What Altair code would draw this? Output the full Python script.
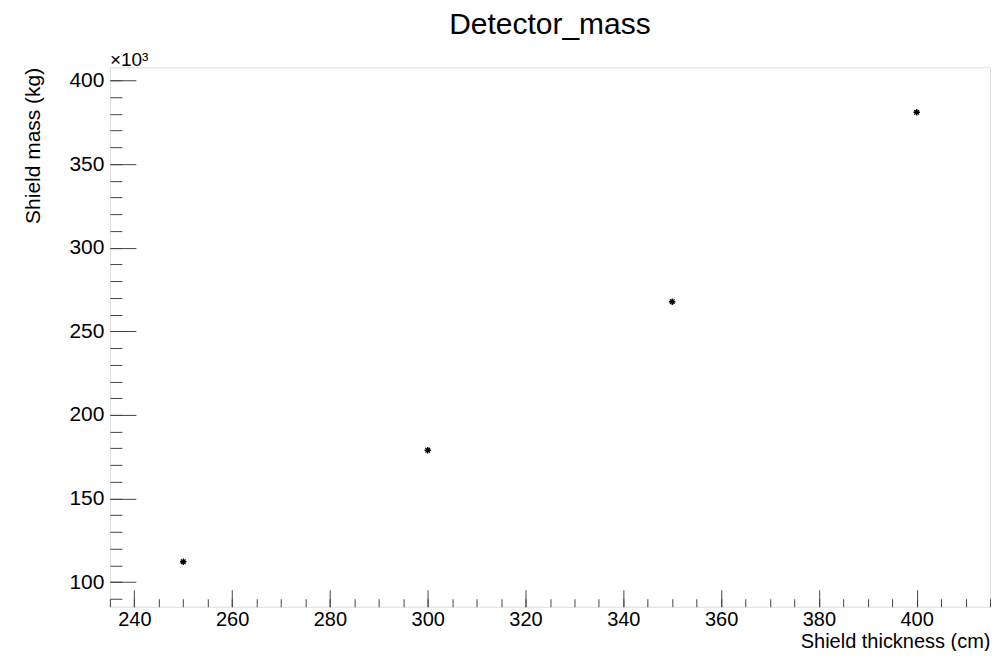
import altair as alt
import pandas as pd

# Data
thickness_cm = [250, 300, 350, 400]
mass_kg = [112200, 178900, 267700, 381000]

x_range = [235, 415]
y_range = [85300, 407900]
x_major = [240, 260, 280, 300, 320, 340, 360, 380, 400]
x_minor = list(range(235, 416, 5))
y_major = [100000, 150000, 200000, 250000, 300000, 350000, 400000]
y_minor = list(range(90000, 408000, 10000))

df = pd.DataFrame({"t": thickness_cm, "m": mass_kg})

FONT = "Liberation Sans"
TICK = "#444444"

xs = alt.Scale(domain=x_range, nice=False, zero=False)
ys = alt.Scale(domain=y_range, nice=False, zero=False)

x_major_axis = alt.Axis(
    orient="bottom", values=x_major, offset=-17, tickSize=17, tickColor=TICK,
    tickWidth=1, domain=False, grid=False, labelFont=FONT, labelFontSize=20,
    labelColor="black", labelPadding=3, title="Shield thickness (cm)",
    titleFont=FONT, titleFontSize=20, titleFontWeight="normal", titleColor="black",
    titleAnchor="end", titleAlign="right", titleBaseline="alphabetic", titleY=58,
)
y_major_axis = alt.Axis(
    orient="left", values=y_major, offset=-26, tickSize=26, tickColor=TICK,
    tickWidth=1, domain=False, grid=False, labelFont=FONT, labelFontSize=21,
    labelColor="black", labelPadding=6, labelExpr="format(datum.value/1000, 'd')",
    title="Shield mass (kg)", titleFont=FONT, titleFontSize=21,
    titleFontWeight="normal", titleColor="black", titleAnchor="end",
    titleAlign="right", titlePadding=25,
)
x_minor_axis = alt.Axis(
    orient="bottom", values=x_minor, offset=-8, tickSize=8, tickColor=TICK,
    tickWidth=1, domain=False, grid=False, labels=False, title=None,
)
y_minor_axis = alt.Axis(
    orient="left", values=y_minor, offset=-12, tickSize=12, tickColor=TICK,
    tickWidth=1, domain=False, grid=False, labels=False, title=None,
)

asterisk = "M-1,0H1M0,-1V1M-0.72,-0.72L0.72,0.72M-0.72,0.72L0.72,-0.72"

base = alt.Chart(df)

minor = base.mark_point(opacity=0).encode(
    x=alt.X("t:Q", scale=xs, axis=x_minor_axis),
    y=alt.Y("m:Q", scale=ys, axis=y_minor_axis),
)

points = base.mark_point(
    shape=asterisk, size=42, filled=False, stroke="black", strokeWidth=1.4, opacity=1
).encode(
    x=alt.X("t:Q", scale=xs, axis=x_major_axis),
    y=alt.Y("m:Q", scale=ys, axis=y_major_axis),
)

expo = alt.Chart(pd.DataFrame({"s": ["×10³"]})).mark_text(
    align="left", baseline="alphabetic", font=FONT, fontSize=19, color="black"
).encode(text="s:N", x=alt.value(0), y=alt.value(-1))

chart = (
    alt.layer(points, minor, expo)
    .resolve_axis(x="independent", y="independent")
    .properties(
        width=881,
        height=540,
        autosize=alt.AutoSizeParams(type="none"),
        padding={"left": 102, "top": 59, "right": 8, "bottom": 44},
        title=alt.TitleParams(
            "Detector_mass", font=FONT, fontSize=30, fontWeight="normal",
            color="black", anchor="middle", baseline="alphabetic", offset=4,
            dy=17, frame="group",
        ),
    )
    .configure_view(stroke="#808080", strokeWidth=1.5)
    .configure(background="white")
)

chart.save("out.html", embed_options={"renderer": "svg", "actions": False})
